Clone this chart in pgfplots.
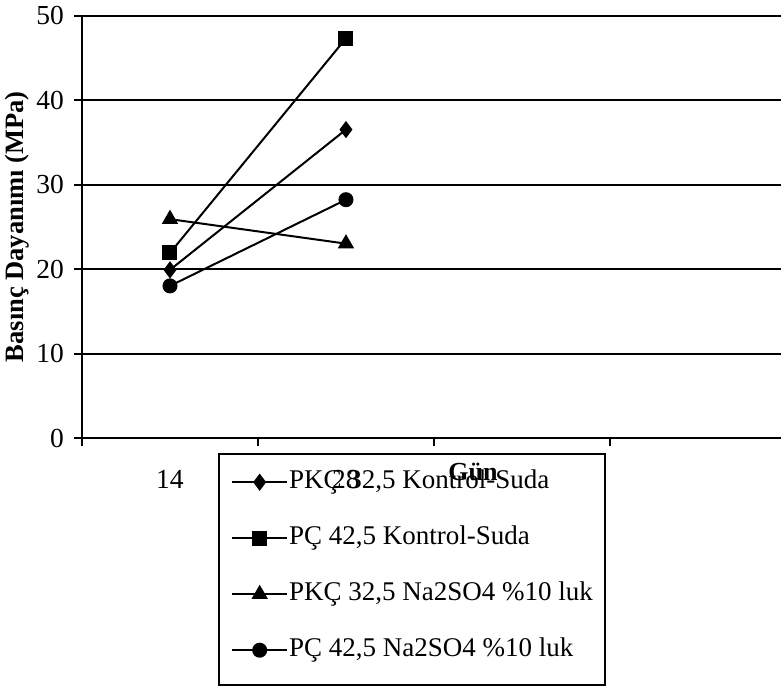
\documentclass[border=0pt]{standalone}
\usepackage{fontspec}
\setmainfont{Liberation Serif}
\usepackage{pgfplots}
\pgfplotsset{compat=1.18}

\newcommand\tickfont{\fontsize{27.5}{30}\selectfont}

\begin{document}
\begin{tikzpicture}[x=1pt,y=1pt]
\path[use as bounding box] (0,0) rectangle (781,686);
\begin{axis}[
  at={(82pt,248pt)}, anchor=south west,
  scale only axis, width=699pt, height=422.5pt,
  xmin=-0.5, xmax=3.472, ymin=0, ymax=50,
  axis x line*=bottom, axis y line*=left,
  axis line style={black, line width=2pt},
  ytick={0,10,20,30,40,50},
  ymajorgrids, grid style={black, line width=2pt},
  xtick={-0.5,0.5,1.5,2.5}, xticklabels={},
  extra x ticks={0,1}, extra x tick labels={14,28},
  extra x tick style={major tick length=0pt, xmajorgrids=false,
    xticklabel style={anchor=base, yshift=-50pt, font=\tickfont}},
  tick align=outside, major tick length=8pt,
  tick style={black, line width=2pt},
  /pgf/number format/assume math mode=true,
  xticklabel style={font=\tickfont},
  yticklabel style={font=\tickfont, inner xsep=10pt},
  ylabel={Basınç Dayanımı (MPa)},
  xlabel={Gün},
  every axis y label/.style={at={(rel axis cs:0,0.5)}, xshift=-65pt,
    rotate=90, anchor=center, font=\bfseries\fontsize{26.5}{30}\selectfont},
  every axis x label/.style={at={(rel axis cs:0.5594,0)}, anchor=base,
    yshift=-42pt, font=\bfseries\fontsize{26}{30}\selectfont},
  legend cell align=left,
  legend style={at={(rel axis cs:0.196,-0.0379)}, anchor=north west,
    draw=none, fill=none,
    font=\fontsize{27}{30}\selectfont,
    inner xsep=12pt, inner ysep=15pt, row sep=30pt,
    nodes={inner sep=1pt, text height=18pt, text depth=6pt}},
  legend image code/.code={%
    \draw[mark repeat=2, mark phase=2, #1]
      plot coordinates {(0pt,0pt) (27.5pt,0pt) (55pt,0pt)};},
  clip=false,
]
% PKÇ 32,5 Kontrol-Suda
\addplot[black, line width=2pt, mark=diamond*, mark size=7pt, mark options={solid}]
  coordinates {(0,19.9) (1,36.5)};
\addlegendentry{PKÇ 32,5 Kontrol-Suda}
% PÇ 42,5 Kontrol-Suda
\addplot[black, line width=2pt, mark=square*, mark size=6.5pt, mark options={solid}]
  coordinates {(0,21.9) (1,47.3)};
\addlegendentry{PÇ 42,5 Kontrol-Suda}
% PKÇ 32,5 Na2SO4 %10 luk
\addplot[black, line width=2pt, mark=triangle*, mark size=7.5pt, mark options={solid}]
  coordinates {(0,25.9) (1,23.0)};
\addlegendentry{PKÇ 32,5 Na2SO4 \%10 luk}
% PÇ 42,5 Na2SO4 %10 luk
\addplot[black, line width=2pt, mark=*, mark size=6.5pt, mark options={solid}]
  coordinates {(0,18.0) (1,28.2)};
\addlegendentry{PÇ 42,5 Na2SO4 \%10 luk}
\end{axis}
% frame around the legend
\draw[black, line width=2pt] (219,1) rectangle (605,232);
\end{tikzpicture}
\end{document}
